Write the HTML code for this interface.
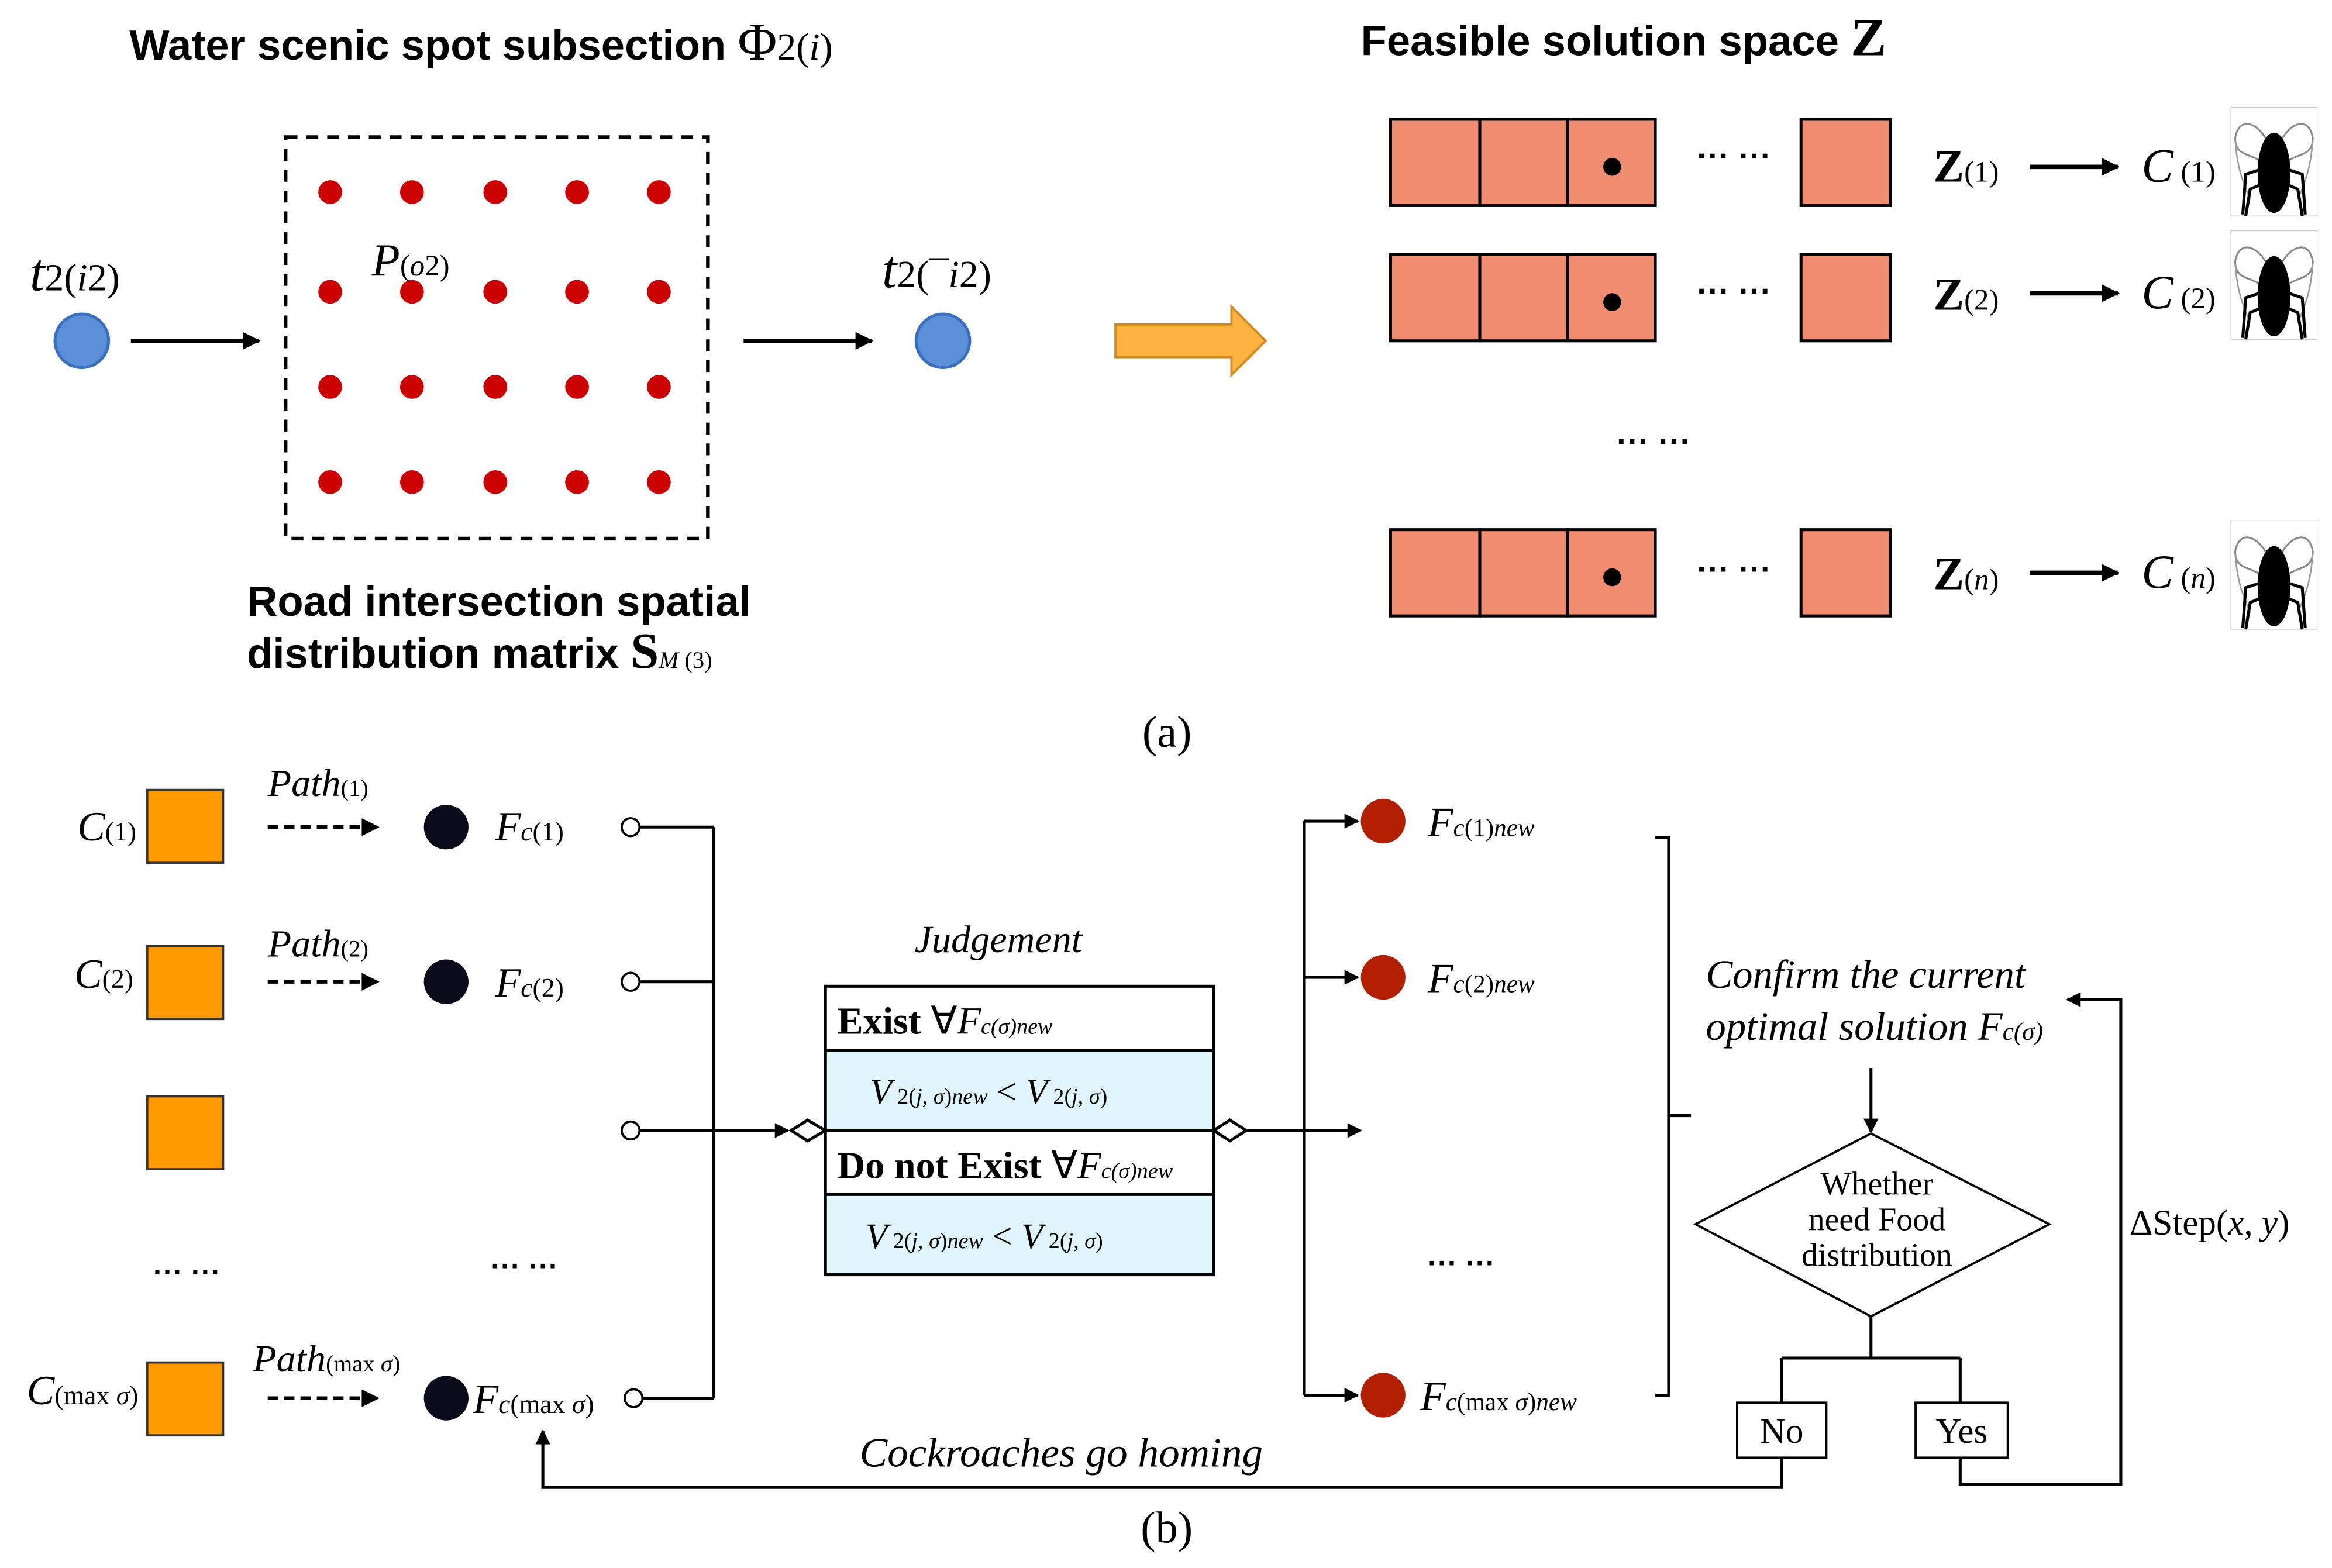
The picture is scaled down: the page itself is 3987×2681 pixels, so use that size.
<!DOCTYPE html>
<html><head><meta charset="utf-8"><style>
html,body{margin:0;padding:0;background:#fff;}
svg{display:block}
.b{font-family:"Liberation Sans",sans-serif;font-weight:bold;}
.s{font-family:"Liberation Serif",serif;}
.i{font-family:"Liberation Serif",serif;font-style:italic;}
</style></head><body>
<svg width="3987" height="2681" viewBox="0 0 1568 1054" xmlns="http://www.w3.org/2000/svg">
<defs>
<marker id="ah" viewBox="0 0 10 10" refX="9" refY="5" markerWidth="11" markerHeight="10" orient="auto" markerUnits="userSpaceOnUse"><path d="M0,0 L10,5 L0,10 z" fill="#000"/></marker>
<marker id="ahb" viewBox="0 0 10 10" refX="9" refY="5" markerWidth="15" markerHeight="12" orient="auto" markerUnits="userSpaceOnUse"><path d="M0,0 L10,5 L0,10 z" fill="#000"/></marker>
<g id="roach">
<rect x="0" y="0" width="58" height="73" fill="#fff" stroke="#ccc" stroke-width="0.5"/>
<path d="M27,28 C20,10 6,5 3,20 C2,35 18,30 23,40" fill="none" stroke="#888" stroke-width="1.2"/>
<path d="M31,28 C38,10 52,5 55,20 C56,35 40,30 35,40" fill="none" stroke="#888" stroke-width="1.2"/>
<path d="M3,22 C4,40 8,50 13,62 M55,22 C54,40 50,50 45,62" fill="none" stroke="#999" stroke-width="1"/>
<ellipse cx="29" cy="44" rx="11" ry="27" fill="#000"/>
<path d="M19,42 L10,45 L8,72 M39,42 L48,45 L50,72 M20,52 L13,55 L10,73 M38,52 L45,55 L48,73" fill="none" stroke="#000" stroke-width="2"/>
</g>
</defs>
<!-- (a) left -->
<text class="b" x="87" y="40" font-size="28.5">Water scenic spot subsection <tspan class="s" font-weight="normal" font-size="36">Φ</tspan><tspan class="s" font-weight="normal" font-size="26">2(</tspan><tspan class="i" font-weight="normal" font-size="26">i</tspan><tspan class="s" font-weight="normal" font-size="26">)</tspan></text>
<text class="i" x="20" y="195" font-size="36">t<tspan font-style="normal" font-size="26">2(</tspan><tspan font-size="26">i</tspan><tspan font-style="normal" font-size="26">2)</tspan></text>
<circle cx="55" cy="229" r="18" fill="#5b8fd8" stroke="#3a6fc0" stroke-width="2"/>
<line x1="88" y1="229" x2="174" y2="229" stroke="#000" stroke-width="3" marker-end="url(#ahb)"/>
<rect x="192" y="92" width="284" height="270" fill="none" stroke="#000" stroke-width="2.5" stroke-dasharray="8,6"/>
<g fill="#cc0000">
<circle cx="222" cy="129" r="8"/><circle cx="277" cy="129" r="8"/><circle cx="333" cy="129" r="8"/><circle cx="388" cy="129" r="8"/><circle cx="443" cy="129" r="8"/>
<circle cx="222" cy="196" r="8"/><circle cx="277" cy="196" r="8"/><circle cx="333" cy="196" r="8"/><circle cx="388" cy="196" r="8"/><circle cx="443" cy="196" r="8"/>
<circle cx="222" cy="260" r="8"/><circle cx="277" cy="260" r="8"/><circle cx="333" cy="260" r="8"/><circle cx="388" cy="260" r="8"/><circle cx="443" cy="260" r="8"/>
<circle cx="222" cy="324" r="8"/><circle cx="277" cy="324" r="8"/><circle cx="333" cy="324" r="8"/><circle cx="388" cy="324" r="8"/><circle cx="443" cy="324" r="8"/>
</g>
<text class="i" x="250" y="185" font-size="31">P<tspan font-style="normal" font-size="20">(</tspan><tspan font-size="20">o</tspan><tspan font-style="normal" font-size="20">2)</tspan></text>
<line x1="500" y1="229" x2="586" y2="229" stroke="#000" stroke-width="3" marker-end="url(#ahb)"/>
<text class="i" x="593" y="193" font-size="36">t<tspan font-style="normal" font-size="26">2(¯</tspan><tspan font-size="26">i</tspan><tspan font-style="normal" font-size="26">2)</tspan></text>
<circle cx="634" cy="229" r="18" fill="#5b8fd8" stroke="#3a6fc0" stroke-width="2"/>
<text class="b" x="166" y="414" font-size="28.5">Road intersection spatial</text>
<text class="b" x="166" y="449" font-size="28.5">distribution matrix <tspan class="s" font-size="34">S</tspan><tspan class="i" font-weight="normal" font-size="16">M</tspan><tspan class="s" font-weight="normal" font-size="16"> (3)</tspan></text>
<path d="M750,218 L828,218 L828,206 L851,229 L828,252 L828,240 L750,240 z" fill="#fbb040" stroke="#d08a20" stroke-width="1.5"/>
<!-- (a) right -->
<text class="b" x="915" y="37" font-size="28.5">Feasible solution space <tspan class="s" font-size="36">Z</tspan></text>
<g stroke="#000" stroke-width="2" fill="#f08c70">
<rect x="935" y="80" width="60" height="58"/><rect x="995" y="80" width="59" height="58"/><rect x="1054" y="80" width="59" height="58"/><rect x="1211" y="80" width="60" height="58"/>
<rect x="935" y="171" width="60" height="58"/><rect x="995" y="171" width="59" height="58"/><rect x="1054" y="171" width="59" height="58"/><rect x="1211" y="171" width="60" height="58"/>
<rect x="935" y="356" width="60" height="58"/><rect x="995" y="356" width="59" height="58"/><rect x="1054" y="356" width="59" height="58"/><rect x="1211" y="356" width="60" height="58"/>
</g>
<circle cx="1084" cy="112" r="6"/><circle cx="1084" cy="203" r="6"/><circle cx="1084" cy="388" r="6"/>
<g class="b" font-size="22"><text x="1141" y="112">··· ···</text><text x="1141" y="203">··· ···</text><text x="1141" y="390">··· ···</text><text x="1087" y="304">··· ···</text></g>
<g class="s" font-size="31" font-weight="bold">
<text x="1300" y="122">Z<tspan font-weight="normal" font-size="20">(1)</tspan></text>
<text x="1300" y="208">Z<tspan font-weight="normal" font-size="20">(2)</tspan></text>
<text x="1300" y="396">Z<tspan font-weight="normal" font-size="20">(</tspan><tspan class="i" font-weight="normal" font-size="20">n</tspan><tspan font-weight="normal" font-size="20">)</tspan></text>
</g>
<g stroke="#000" stroke-width="3">
<line x1="1365" y1="112" x2="1424" y2="112" marker-end="url(#ahb)"/>
<line x1="1365" y1="197" x2="1424" y2="197" marker-end="url(#ahb)"/>
<line x1="1365" y1="385" x2="1424" y2="385" marker-end="url(#ahb)"/>
</g>
<g class="i" font-size="32">
<text x="1440" y="122">C<tspan font-style="normal" font-size="20"> (1)</tspan></text>
<text x="1440" y="207">C<tspan font-style="normal" font-size="20"> (2)</tspan></text>
<text x="1440" y="395">C<tspan font-style="normal" font-size="20"> (</tspan><tspan font-size="20">n</tspan><tspan font-style="normal" font-size="20">)</tspan></text>
</g>
<use href="#roach" x="1500" y="72"/><use href="#roach" x="1500" y="155"/><use href="#roach" x="1500" y="350"/>
<text class="s" x="768" y="502" font-size="30">(a)</text>
<!-- (b) left -->
<g fill="#ff9900" stroke="#333" stroke-width="1.5">
<rect x="99" y="531" width="51" height="49"/><rect x="99" y="636" width="51" height="49"/><rect x="99" y="737" width="51" height="49"/><rect x="99" y="916" width="51" height="49"/>
</g>
<g class="i" font-size="28">
<text x="52" y="565">C<tspan font-style="normal" font-size="18">(1)</tspan></text>
<text x="50" y="664">C<tspan font-style="normal" font-size="18">(2)</tspan></text>
<text x="18" y="944">C<tspan font-style="normal" font-size="18">(max </tspan><tspan font-size="18">σ</tspan><tspan font-style="normal" font-size="18">)</tspan></text>
<text x="180" y="535" font-size="26">Path<tspan font-style="normal" font-size="16">(1)</tspan></text>
<text x="180" y="643" font-size="26">Path<tspan font-style="normal" font-size="16">(2)</tspan></text>
<text x="170" y="922" font-size="26">Path<tspan font-style="normal" font-size="16">(max </tspan><tspan font-size="16">σ</tspan><tspan font-style="normal" font-size="16">)</tspan></text>
<text x="333" y="565">F<tspan font-size="18">c</tspan><tspan font-style="normal" font-size="18">(1)</tspan></text>
<text x="333" y="670">F<tspan font-size="18">c</tspan><tspan font-style="normal" font-size="18">(2)</tspan></text>
<text x="318" y="950">F<tspan font-size="18">c</tspan><tspan font-style="normal" font-size="18">(max </tspan><tspan font-size="18">σ</tspan><tspan font-style="normal" font-size="18">)</tspan></text>
</g>
<g stroke="#000" stroke-width="2.5" stroke-dasharray="7,4">
<line x1="180" y1="556" x2="254" y2="556" marker-end="url(#ahb)"/>
<line x1="180" y1="660" x2="254" y2="660" marker-end="url(#ahb)"/>
<line x1="180" y1="940" x2="254" y2="940" marker-end="url(#ahb)"/>
</g>
<g fill="#0a0a1a"><circle cx="300" cy="556" r="15"/><circle cx="300" cy="660" r="15"/><circle cx="300" cy="940" r="15"/></g>
<g class="b" font-size="20"><text x="103" y="862">··· ···</text><text x="330" y="858">··· ···</text><text x="960" y="856">··· ···</text></g>
<g stroke="#000" stroke-width="2" fill="none">
<line x1="430" y1="556" x2="480" y2="556"/><line x1="430" y1="660" x2="480" y2="660"/><line x1="430" y1="940" x2="480" y2="940"/>
<line x1="480" y1="556" x2="480" y2="940"/>
<line x1="430" y1="760" x2="530" y2="760" marker-end="url(#ah)"/>
</g>
<g fill="#fff" stroke="#000" stroke-width="1.5"><circle cx="424" cy="556" r="6"/><circle cx="424" cy="660" r="6"/><circle cx="424" cy="760" r="6"/><circle cx="426" cy="940" r="6"/></g>
<path d="M532,760 L543,753 L555,760 L543,767 z" fill="#fff" stroke="#000" stroke-width="2"/>
<!-- table -->
<text class="i" x="615" y="640" font-size="26">Judgement</text>
<rect x="555" y="663" width="261" height="43" fill="#fff" stroke="#000" stroke-width="2"/>
<rect x="555" y="706" width="261" height="54" fill="#e0f4fc" stroke="#000" stroke-width="2"/>
<rect x="555" y="760" width="261" height="43" fill="#fff" stroke="#000" stroke-width="2"/>
<rect x="555" y="803" width="261" height="54" fill="#e0f4fc" stroke="#000" stroke-width="2"/>
<text class="s" x="563" y="695" font-size="26" font-weight="bold">Exist <tspan font-weight="normal">∀</tspan><tspan class="i" font-weight="normal">F</tspan><tspan class="i" font-weight="normal" font-size="15">c(σ)new</tspan></text>
<text class="s" x="563" y="792" font-size="26" font-weight="bold">Do not Exist <tspan font-weight="normal">∀</tspan><tspan class="i" font-weight="normal">F</tspan><tspan class="i" font-weight="normal" font-size="15">c(σ)new</tspan></text>
<text class="i" x="585" y="742" font-size="24">V<tspan font-style="normal" font-size="15"> 2(</tspan><tspan font-size="15">j</tspan><tspan font-style="normal" font-size="15">, </tspan><tspan font-size="15">σ</tspan><tspan font-style="normal" font-size="15">)</tspan><tspan font-size="15">new</tspan><tspan font-style="normal"> &lt; </tspan>V<tspan font-style="normal" font-size="15"> 2(</tspan><tspan font-size="15">j</tspan><tspan font-style="normal" font-size="15">, </tspan><tspan font-size="15">σ</tspan><tspan font-style="normal" font-size="15">)</tspan></text>
<text class="i" x="582" y="839" font-size="24">V<tspan font-style="normal" font-size="15"> 2(</tspan><tspan font-size="15">j</tspan><tspan font-style="normal" font-size="15">, </tspan><tspan font-size="15">σ</tspan><tspan font-style="normal" font-size="15">)</tspan><tspan font-size="15">new</tspan><tspan font-style="normal"> &lt; </tspan>V<tspan font-style="normal" font-size="15"> 2(</tspan><tspan font-size="15">j</tspan><tspan font-style="normal" font-size="15">, </tspan><tspan font-size="15">σ</tspan><tspan font-style="normal" font-size="15">)</tspan></text>
<path d="M816,760 L827,753 L838,760 L827,767 z" fill="#fff" stroke="#000" stroke-width="2"/>
<g stroke="#000" stroke-width="2" fill="none">
<line x1="838" y1="760" x2="915" y2="760" marker-end="url(#ah)"/>
<line x1="877" y1="552" x2="877" y2="938"/>
<line x1="877" y1="552" x2="913" y2="552" marker-end="url(#ah)"/>
<line x1="877" y1="657" x2="913" y2="657" marker-end="url(#ah)"/>
<line x1="877" y1="938" x2="913" y2="938" marker-end="url(#ah)"/>
<path d="M1113,563 L1122,563 L1122,938 L1113,938 M1122,750 L1137,750"/>
</g>
<g fill="#b22000"><circle cx="930" cy="552" r="15"/><circle cx="930" cy="657" r="15"/><circle cx="930" cy="938" r="15"/></g>
<g class="i" font-size="28">
<text x="960" y="562">F<tspan font-size="17">c</tspan><tspan font-style="normal" font-size="17">(1)</tspan><tspan font-size="17">new</tspan></text>
<text x="960" y="667">F<tspan font-size="17">c</tspan><tspan font-style="normal" font-size="17">(2)</tspan><tspan font-size="17">new</tspan></text>
<text x="955" y="948">F<tspan font-size="17">c</tspan><tspan font-style="normal" font-size="17">(max </tspan><tspan font-size="17">σ</tspan><tspan font-style="normal" font-size="17">)</tspan><tspan font-size="17">new</tspan></text>
<text x="1147" y="664" font-size="27">Confirm the current</text>
<text x="1147" y="699" font-size="27">optimal solution F<tspan font-size="17">c(σ)</tspan></text>
<text x="578" y="986" font-size="28">Cockroaches go homing</text>
</g>
<!-- flowchart -->
<g stroke="#000" stroke-width="2" fill="none">
<line x1="1258" y1="718" x2="1258" y2="761" marker-end="url(#ah)"/>
<path d="M1258,762 L1378,823 L1258,885 L1140,823 z" fill="#fff" stroke-width="1.5"/>
<path d="M1258,885 L1258,913 M1198,913 L1318,913 M1198,913 L1198,943 M1318,913 L1318,943"/>
<path d="M1198,980 L1198,1000 L365,1000 L365,962" marker-end="url(#ah)"/>
<path d="M1318,980 L1318,998 L1426,998 L1426,672 L1390,672" marker-end="url(#ah)"/>
</g>
<g class="s" font-size="22" text-anchor="middle"><text x="1262" y="803">Whether</text><text x="1262" y="827">need Food</text><text x="1262" y="851">distribution</text></g>
<rect x="1168" y="943" width="60" height="37" fill="#fff" stroke="#000" stroke-width="1.5"/>
<rect x="1288" y="943" width="62" height="37" fill="#fff" stroke="#000" stroke-width="1.5"/>
<text class="s" x="1198" y="970" font-size="24" text-anchor="middle">No</text>
<text class="s" x="1319" y="970" font-size="24" text-anchor="middle">Yes</text>
<text class="s" x="1432" y="830" font-size="24">ΔStep(<tspan class="i">x</tspan>, <tspan class="i">y</tspan>)</text>
<text class="s" x="767" y="1037" font-size="30">(b)</text>
</svg>
</body></html>
